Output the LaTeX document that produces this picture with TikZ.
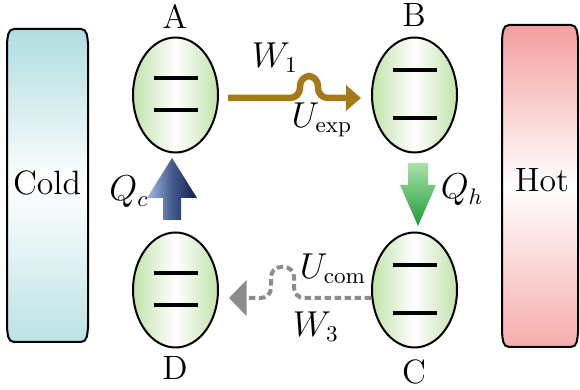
\documentclass[tikz,border=0pt]{standalone}
\usetikzlibrary{shapes.geometric,arrows.meta,calc}
\definecolor{goldc}{RGB}{164,122,24}
\definecolor{grayc}{RGB}{140,140,140}
\definecolor{ellg}{RGB}{194,226,170}
\definecolor{coldc}{RGB}{176,221,224}
\definecolor{hotc}{RGB}{244,158,158}
\definecolor{qcl}{RGB}{160,186,232}
\definecolor{qcd}{RGB}{10,28,80}
\definecolor{qhl}{RGB}{170,226,170}
\definecolor{qhd}{RGB}{30,155,55}
\tikzset{
  qubit/.style={ellipse, draw=black, line width=0.8pt, minimum width=34pt, minimum height=46pt, inner sep=0pt, left color=ellg, right color=ellg, middle color=white},
  lvl/.style={line width=1.3pt, black},
  lab/.style={font=\fontsize{13.5}{16}\selectfont, inner sep=0pt},
  bath/.style={draw=black, line width=0.8pt},
  goldarrow/.style={draw=goldc, line width=2.6pt, rounded corners=4pt, -{Triangle[length=6pt,width=10pt]}},
  grayarrow/.style={draw=grayc, line width=1.6pt, dash pattern=on 2.6pt off 1.4pt, rounded corners=4pt, -{Triangle[length=7pt,width=14pt]}}
}
\begin{document}
\begin{tikzpicture}[x=0.4pt,y=-0.4pt]
\useasboundingbox (0,0) rectangle (580,390);
% baths
\path[bath, top color=coldc, bottom color=coldc!85, middle color=white]
  (14,29) -- (81,29) to[out=0,in=95] (88,44) -- (88,327) to[out=-95,in=0] (81,342) -- (14,342) to[out=180,in=-85] (7,327) -- (7,44) to[out=85,in=180] (14,29) -- cycle;
\path[bath, top color=hotc, bottom color=hotc!85, middle color=white]
  (509,25) -- (571,25) to[out=0,in=95] (578,40) -- (578,332) to[out=-95,in=0] (571,347) -- (509,347) to[out=180,in=-85] (502,332) -- (502,40) to[out=85,in=180] (509,25) -- cycle;
\node[lab] (cold) at (47,183) {Cold};
\node[lab] (hot) at (542,180) {Hot};
% qubits
\node[qubit] (A) at (175.5,95) {};
\node[qubit] (B) at (414.5,95) {};
\node[qubit] (C) at (414.5,290) {};
\node[qubit] (D) at (175.5,290) {};
\draw[lvl] ($(A.center)+(-22,-17)$) -- ($(A.center)+(22,-17)$);
\draw[lvl] ($(A.center)+(-22,15)$) -- ($(A.center)+(22,15)$);
\draw[lvl] ($(B.center)+(-22,-25)$) -- ($(B.center)+(22,-25)$);
\draw[lvl] ($(B.center)+(-22,23)$) -- ($(B.center)+(22,23)$);
\draw[lvl] ($(C.center)+(-22,-25)$) -- ($(C.center)+(22,-25)$);
\draw[lvl] ($(C.center)+(-22,23)$) -- ($(C.center)+(22,23)$);
\draw[lvl] ($(D.center)+(-22,-17)$) -- ($(D.center)+(22,-17)$);
\draw[lvl] ($(D.center)+(-22,15)$) -- ($(D.center)+(22,15)$);
% state labels
\node[lab] (la) at (175,16) {A};
\node[lab] (lb) at (414,15) {B};
\node[lab] (lc) at (414,372) {C};
\node[lab] (ld) at (175,368) {D};
% work arrows
\draw[goldarrow] ($(A.east)+(9,3)$) -| (300,76) -| (318,98) -- ($(B.west)+(-10,3)$);
\node[lab] (w1) at (275,58) {$W_1$};
\node[lab] (uexp) at (322,120) {$U_\mathrm{exp}$};
\draw[grayarrow] ($(C.west)+(0,8)$) -| (294,267) -| (271,298) -- ($(D.east)+(10,8)$);
\node[lab] (ucom) at (333,269) {$U_\mathrm{com}$};
\node[lab] (w3) at (316,327) {$W_3$};
% heat arrows
\path[left color=qcl, right color=qcd, middle color=qcd!60!qcl]
  (163,220) -- (163,198) -- (147,198) -- (172,158) -- (197,198) -- (181,198) -- (181,220) -- cycle;
\node[lab] (qc) at (129,192) {$Q_c$};
\path[top color=qhl, bottom color=qhd]
  (408,163) -- (428,163) -- (428,185) -- (436,185) -- (418,226) -- (400,185) -- (408,185) -- cycle;
\node[lab] (qh) at (462,190) {$Q_h$};
\end{tikzpicture}
\end{document}
